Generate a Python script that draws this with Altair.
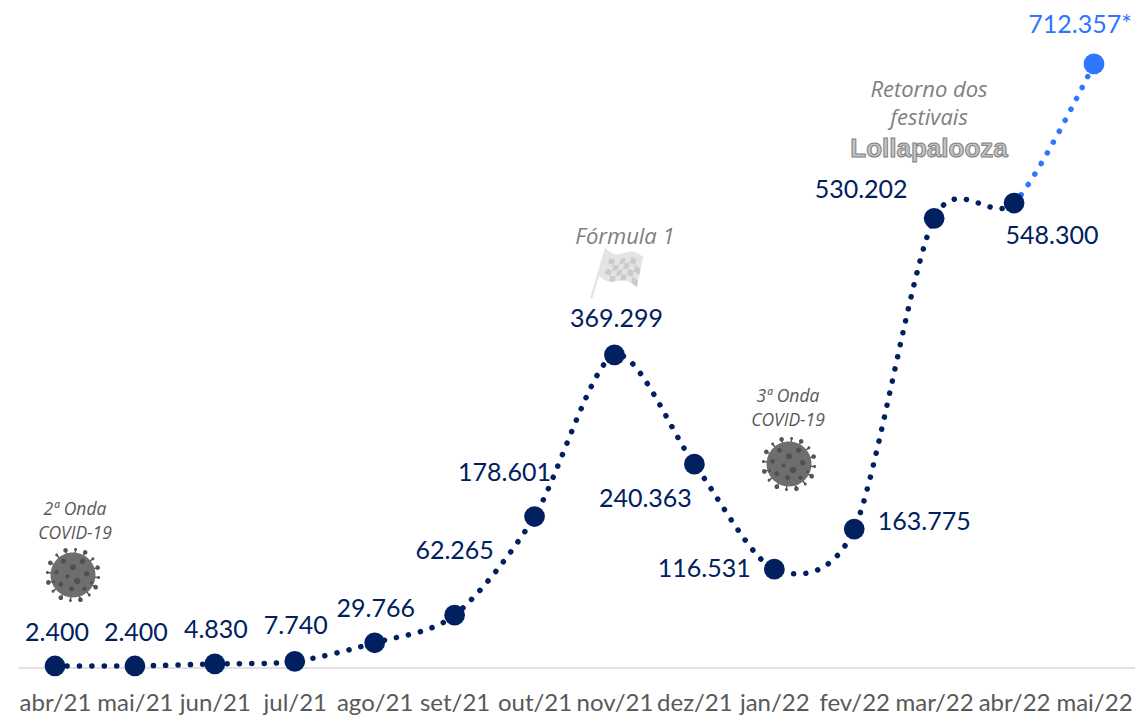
import math
import altair as alt
import pandas as pd

MONTHS = ["abr/21", "mai/21", "jun/21", "jul/21", "ago/21", "set/21", "out/21",
          "nov/21", "dez/21", "jan/22", "fev/22", "mar/22", "abr/22", "mai/22"]
VALUES = [2400, 2400, 4830, 7740, 29766, 62265, 178601,
          369299, 240363, 116531, 163775, 530202, 548300, 712357]
LABELS = ["2.400", "2.400", "4.830", "7.740", "29.766", "62.265", "178.601",
          "369.299", "240.363", "116.531", "163.775", "530.202", "548.300", "712.357*"]

NAVY = "#002060"
BLUE = "#2F75FF"
GREY = "#595959"
FONT = "Lato"

# Label placement relative to each point, in pixels.
LABEL_OFFSETS = [(2, -33), (1, -33), (1, -34), (1, -35), (1, -34), (0, -64), (-30, -44),
                 (2, -36), (-49, 35), (-70, 0), (70, -7), (-73, -28), (38, 33), (-14, -39)]

NOTES = [
    ("2ª Onda", 75, 510, 17.5, GREY),
    ("COVID-19", 75, 534, 17.5, GREY),
    ("Fórmula 1", 625, 237, 22, "#7F7F7F"),
    ("3ª Onda", 788, 397, 17.5, GREY),
    ("COVID-19", 788, 421, 17.5, GREY),
    ("Retorno dos", 929, 90, 22, "#7F7F7F"),
    ("festivais", 929, 118, 22, "#7F7F7F"),
]

df = pd.DataFrame({"mes": MONTHS, "valor": VALUES, "rotulo": LABELS})

x = alt.X("mes:N", sort=MONTHS, title=None,
          scale=alt.Scale(type="point", domain=MONTHS, range=[55, 1094], padding=0),
          axis=alt.Axis(domain=False, ticks=False, grid=False, labelAngle=0, labelFont=FONT,
                        labelFontSize=24, labelColor=GREY, labelPadding=23, labelOverlap=False))
y = alt.Y("valor:Q", title=None,
          scale=alt.Scale(domain=[0, 787700], range=[668, 0], nice=False, zero=False), axis=None)


def circle(cx, cy, r):
    return (f"M{cx - r:.3f},{cy:.3f}a{r:.3f},{r:.3f} 0 1,0 {2 * r:.3f},0"
            f"a{r:.3f},{r:.3f} 0 1,0 {-2 * r:.3f},0Z")


def virus_spikes():
    parts = []
    for k in range(16):
        a = 2 * math.pi * k / 16 + 0.1
        ca, sa = math.cos(a), math.sin(a)
        px, py = -sa * 0.025, ca * 0.025
        parts.append(f"M{0.8 * ca + px:.3f},{0.8 * sa + py:.3f}L{0.93 * ca + px:.3f},{0.93 * sa + py:.3f}"
                     f"L{0.93 * ca - px:.3f},{0.93 * sa - py:.3f}L{0.8 * ca - px:.3f},{0.8 * sa - py:.3f}Z")
        parts.append(circle(0.94 * ca, 0.94 * sa, 0.085 if k % 2 else 0.055))
    return "".join(parts)


VIRUS_BODY = circle(0, 0, 0.82)
VIRUS_CRATERS = "".join(circle(cx, cy, r) for cx, cy, r in [
    (-0.35, -0.5, 0.09), (0.0, -0.28, 0.11), (0.35, -0.5, 0.1), (-0.6, -0.1, 0.08),
    (-0.2, 0.05, 0.08), (0.15, 0.22, 0.12), (0.5, -0.05, 0.1), (-0.45, 0.35, 0.09),
    (-0.05, 0.5, 0.09), (0.42, 0.5, 0.08), (-0.7, 0.25, 0.05), (0.68, 0.28, 0.05)])


def flag_point(u, v):
    # Bilinear placement inside the waving cloth.
    top = (-0.4 + 1.35 * u, -0.84 + 0.29 * u + 0.12 * math.sin(u * 6.28))
    bot = (-0.7 + 1.42 * u, 0.1 + 0.45 * u + 0.12 * math.sin(u * 6.28))
    return top[0] + (bot[0] - top[0]) * v, top[1] + (bot[1] - top[1]) * v


def flag_cloth():
    pts = ([flag_point(i / 8, 0) for i in range(9)] + [flag_point(1, 1)]
           + [flag_point(i / 8, 1) for i in range(7, -1, -1)])
    pts_s = "L".join(f"{a:.3f},{b:.3f}" for a, b in pts)
    pole = "M-0.98,0.95L-0.44,-0.86L-0.36,-0.84L-0.9,0.97Z"
    return "M" + pts_s + "Z" + pole


def flag_checks():
    parts = []
    for i in range(1, 7):
        for j in range(1, 5):
            if (i + j) % 2:
                continue
            corners = [flag_point(i / 7, j / 5), flag_point((i + 1) / 7, j / 5),
                       flag_point((i + 1) / 7, (j + 1) / 5), flag_point(i / 7, (j + 1) / 5)]
            parts.append("M" + "L".join(f"{a:.3f},{b:.3f}" for a, b in corners) + "Z")
    return "".join(parts)


def icon(path, px, py, size, color):
    return alt.Chart(df.head(1)).mark_point(shape=path, filled=True, size=size, color=color,
                                            opacity=1, strokeWidth=0).encode(
        x=alt.value(px), y=alt.value(py))


baseline = alt.Chart(df.head(1)).mark_rule(color="#D9D9D9", strokeWidth=1.5).encode(
    x=alt.value(18), x2=alt.value(1135), y=alt.value(668))

# The last segment is the projected month: a hard colour stop on the single curve.
stop = (1013 - 55) / (1094 - 55)
line = alt.Chart(df).mark_line(
    interpolate="cardinal", tension=0.15, strokeWidth=5.5, strokeCap="round", strokeDash=[0.1, 12.2],
    stroke=alt.Gradient(gradient="linear", x1=0, y1=0, x2=1, y2=0, stops=[
        alt.GradientStop(offset=0, color=NAVY), alt.GradientStop(offset=stop, color=NAVY),
        alt.GradientStop(offset=stop, color=BLUE), alt.GradientStop(offset=1, color=BLUE)]),
).encode(x=x, y=y)

points = alt.Chart(df).mark_circle(size=430, opacity=1).encode(
    x=x, y=y,
    color=alt.condition(alt.datum.mes == "mai/22", alt.value(BLUE), alt.value(NAVY)))

layers = [baseline, line, points]

for i, (dx, dy) in enumerate(LABEL_OFFSETS):
    layers.append(alt.Chart(df.iloc[[i]]).mark_text(
        font=FONT, fontSize=25, dx=dx, dy=dy, baseline="middle", align="center",
        color=BLUE if i == len(VALUES) - 1 else NAVY).encode(x=x, y=y, text="rotulo:N"))

for text, px, py, size, color in NOTES:
    layers.append(alt.Chart(df.head(1)).mark_text(
        text=text, font="Open Sans", fontSize=size, fontStyle="italic", color=color,
        baseline="middle", align="center").encode(x=alt.value(px), y=alt.value(py)))

for vx, vy in [(73, 575), (789, 464)]:
    layers += [icon(virus_spikes(), vx, vy, 3000, "#555555"),
               icon(VIRUS_BODY, vx, vy, 3000, "#6E6E6E"),
               icon(VIRUS_CRATERS, vx, vy, 3000, "#505050")]

layers += [icon(flag_cloth(), 617, 272, 3025, "#E4E4E4"),
           icon(flag_checks(), 617, 272, 3025, "#CBCBCB")]

layers.append(alt.Chart(df.head(1)).mark_text(
    text="Lollapalooza", font="Liberation Sans", fontWeight="bold", fontSize=26,
    color="#C4C4C4", stroke="#808080", strokeWidth=1, baseline="middle", align="center").encode(
    x=alt.value(929), y=alt.value(149)))

chart = alt.layer(*layers).properties(
    width=1135, height=668, background="white",
    autosize=alt.AutoSizeParams(type="none"),
    padding={"left": 0, "top": 0, "right": 0, "bottom": 47},
).configure_view(strokeWidth=0)

chart.save("out.html", embed_options={"renderer": "svg", "actions": False})
